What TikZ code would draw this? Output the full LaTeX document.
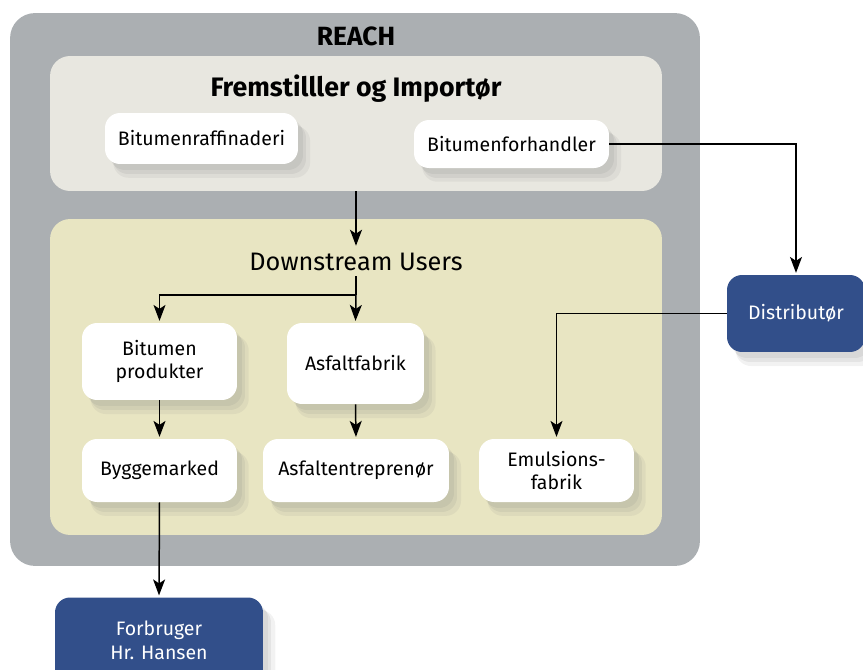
\documentclass[tikz,border=0pt]{standalone}
\usepackage{fontspec}
\setmainfont{Fira Sans}
\usetikzlibrary{arrows.meta,shadows}
\definecolor{reachgray}{HTML}{ABAFB2}
\definecolor{makerfill}{HTML}{E8E7E0}
\definecolor{userfill}{HTML}{E8E5C2}
\definecolor{actorblue}{HTML}{324F8A}
\begin{document}
\begin{tikzpicture}[x=0.02cm,y=-0.02cm,
  panel/.style={draw=none,rounded corners=0.4cm,inner sep=0pt},
  unit/.style={draw=none,fill=white,rounded corners=0.3cm,align=center,inner sep=2pt,
    font=\fontsize{11.1}{13.5}\selectfont,
    drop shadow={opacity=0.12,shadow xshift=0.1cm,shadow yshift=-0.12cm},
    drop shadow={opacity=0.12,shadow xshift=0.16cm,shadow yshift=-0.2cm},
    drop shadow={opacity=0.1,shadow xshift=0.2cm,shadow yshift=-0.26cm,shadow scale=1.02}},
  actor/.style={unit,fill=actorblue,text=white},
  flow/.style={line width=0.85pt,-{Stealth[length=0.32cm,width=0.24cm,inset=0.08cm]},shorten >=1pt}]
\clip (0,0) rectangle (863,670);
\node[panel,fill=reachgray,rounded corners=0.5cm,minimum width=13.8cm,minimum height=11.06cm] (reach) at (355,289.5) {};
\node[font=\bfseries\fontsize{15}{18}\selectfont] (reachlbl) at (356,36) {REACH};
\node[panel,fill=makerfill,minimum width=12.24cm,minimum height=2.7cm] (maker) at (356,123.5) {};
\node[font=\bfseries\fontsize{15.2}{18}\selectfont] (makerlbl) at (356,89) {Fremstilller og Importør};
\node[panel,fill=userfill,minimum width=12.24cm,minimum height=6.32cm] (users) at (356,377) {};
\node[font=\fontsize{14.4}{17}\selectfont,inner sep=3pt] (userlbl) at (356,262) {Downstream Users};
\node[unit,minimum width=3.86cm,minimum height=1.02cm] (raff) at (201.5,138.5) {Bitumenraffinaderi};
\node[unit,minimum width=3.9cm,minimum height=0.96cm] (forh) at (511.5,144) {Bitumenforhandler};
\node[unit,minimum width=3.1cm,minimum height=1.54cm] (bprod) at (159.5,361.5) {Bitumen\\produkter};
\node[unit,minimum width=2.74cm,minimum height=1.62cm] (asfab) at (355.5,363.5) {Asfaltfabrik};
\node[unit,minimum width=3.1cm,minimum height=1.26cm] (bygg) at (159.5,470.5) {Byggemarked};
\node[unit,minimum width=3.72cm,minimum height=1.26cm] (asent) at (356,470.5) {Asfaltentreprenør};
\node[unit,minimum width=3.1cm,minimum height=1.26cm] (emul) at (556.5,470.5) {Emulsions-\\fabrik};
\node[actor,minimum width=2.76cm,minimum height=1.54cm] (dist) at (796,313.5) {Distributør};
\node[actor,minimum width=4.16cm,minimum height=1.7cm] (forbr) at (159,640) {Forbruger\\Hr. Hansen};
\coordinate (split) at (356,295);
\draw[flow] (maker.south) -- (userlbl.north);
\draw[line width=0.85pt] (userlbl.south) -- (split);
\draw[flow] (split) -- (asfab.north);
\draw[flow] (split) -| (bprod.north);
\draw[flow] (bprod.south) -- (bygg.north);
\draw[flow] (asfab.south) -- (asent.north);
\draw[flow] (forh.east) -| (dist.north);
\draw[flow] (dist.west) -| (emul.north);
\draw[flow] (bygg.south) -- (forbr.north);
\end{tikzpicture}
\end{document}
